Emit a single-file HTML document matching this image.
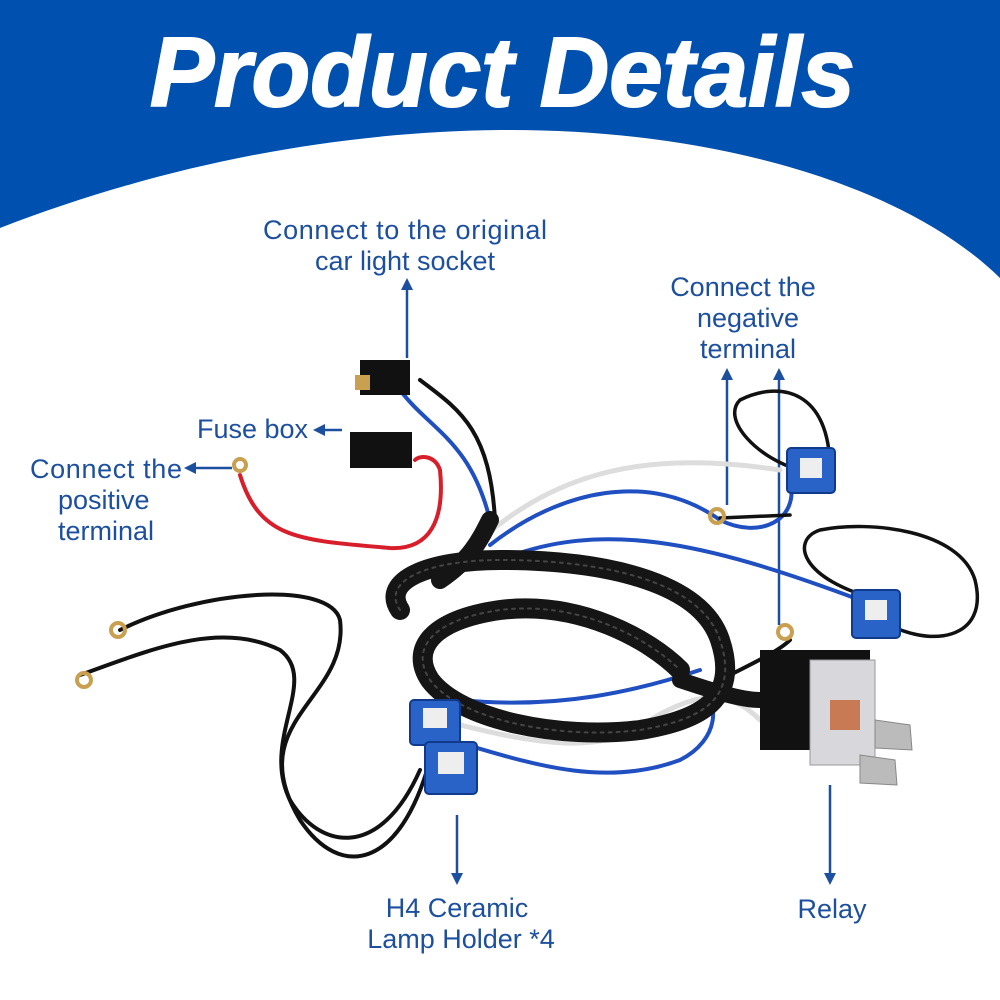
<!DOCTYPE html>
<html><head><meta charset="utf-8"><style>
html,body{margin:0;padding:0;background:#fff;}
svg{display:block}
text{font-family:"Liberation Sans",sans-serif;}
.l{fill:#1d4f9f;font-size:27px;}
</style></head><body>
<svg width="1000" height="1000" viewBox="0 0 1000 1000" xmlns="http://www.w3.org/2000/svg">
<path d="M0 0H1000V278C900 180 700 128 500 130C320 132 150 170 0 228Z" fill="#0050b0"/>
<text x="150" y="106" font-size="98" font-weight="bold" font-style="italic" fill="#fff" stroke="#fff" stroke-width="2" textLength="705" lengthAdjust="spacingAndGlyphs">Product Details</text>

<!-- labels -->
<text class="l" x="405" y="239" text-anchor="middle" textLength="284">Connect to the original</text>
<text class="l" x="405" y="270" text-anchor="middle">car light socket</text>
<text class="l" x="743" y="296" text-anchor="middle">Connect the</text>
<text class="l" x="748" y="327" text-anchor="middle">negative</text>
<text class="l" x="748" y="358" text-anchor="middle">terminal</text>
<text class="l" x="197" y="438">Fuse box</text>
<text class="l" x="30" y="478" textLength="152">Connect the</text>
<text class="l" x="58" y="509">positive</text>
<text class="l" x="58" y="540">terminal</text>
<text class="l" x="457" y="917" text-anchor="middle">H4 Ceramic</text>
<text class="l" x="461" y="948" text-anchor="middle">Lamp Holder *4</text>
<text class="l" x="832" y="918" text-anchor="middle">Relay</text>

<!-- arrows -->
<g stroke="#1d4f9f" stroke-width="2.5" fill="#1d4f9f">
<line x1="407" y1="288" x2="407" y2="358"/><path d="M401 290L407 278L413 290Z" stroke="none"/>
<line x1="727" y1="378" x2="727" y2="505"/><path d="M721 380L727 368L733 380Z" stroke="none"/>
<line x1="779" y1="378" x2="779" y2="625"/><path d="M773 380L779 368L785 380Z" stroke="none"/>
<line x1="325" y1="430" x2="342" y2="430"/><path d="M325 424L313 430L325 436Z" stroke="none"/>
<line x1="196" y1="468" x2="232" y2="468"/><path d="M196 462L184 468L196 474Z" stroke="none"/>
<line x1="457" y1="815" x2="457" y2="875"/><path d="M451 873L457 885L463 873Z" stroke="none"/>
<line x1="830" y1="785" x2="830" y2="875"/><path d="M824 873L830 885L836 873Z" stroke="none"/>
</g>

<!-- wires -->
<g fill="none" stroke-linecap="round">
<path d="M240 475C260 540 300 540 390 548C430 550 445 520 440 470C435 455 420 455 415 460" stroke="#d81e2b" stroke-width="4"/>
<path d="M400 390C430 430 470 440 490 520" stroke="#1f4fc0" stroke-width="4"/>
<path d="M420 380C460 410 490 430 495 520" stroke="#111" stroke-width="4"/>
<path d="M480 540C560 470 650 450 780 470" stroke="#ddd" stroke-width="5"/>
<path d="M490 545C560 490 650 470 720 520C760 540 800 520 790 480" stroke="#1f4fc0" stroke-width="4"/>
<path d="M500 560C600 520 700 540 860 600" stroke="#1f4fc0" stroke-width="4"/>
<path d="M800 470C760 460 720 420 740 400C780 380 830 390 830 470" stroke="#111" stroke-width="3.5"/>
<path d="M880 600C800 580 790 540 820 530C870 520 960 530 975 580C990 640 930 650 880 620" stroke="#111" stroke-width="3.5"/>
<path d="M720 518L790 515" stroke="#111" stroke-width="3.5"/>
<path d="M120 630C200 590 330 580 340 620C350 700 240 720 300 820C340 880 400 870 430 760" stroke="#111" stroke-width="4"/>
<path d="M80 675C150 650 220 620 280 650C320 680 260 740 290 800C320 850 380 860 420 770" stroke="#111" stroke-width="4"/>
<path d="M440 720C520 740 600 760 650 720C700 690 730 690 760 720" stroke="#ddd" stroke-width="5"/>
<path d="M450 740C520 760 600 790 680 760C720 740 720 700 700 690" stroke="#1f4fc0" stroke-width="4"/>
<path d="M460 700C560 710 640 690 700 670" stroke="#1f4fc0" stroke-width="4"/>
<path d="M720 680C760 660 780 650 790 640" stroke="#111" stroke-width="4"/>
<path d="M400 610C380 580 430 560 500 560C600 560 700 580 720 640C740 700 700 720 640 730C560 740 460 720 430 680C410 650 430 620 500 610C580 600 650 640 680 670" stroke="#151515" stroke-width="20"/>
<path d="M440 580C470 560 480 540 490 520" stroke="#151515" stroke-width="18"/>
<path d="M680 680C710 690 740 700 760 700" stroke="#151515" stroke-width="16"/>
<path d="M400 610C380 580 430 560 500 560C600 560 700 580 720 640C740 700 700 720 640 730C560 740 460 720 430 680C410 650 430 620 500 610C580 600 650 640 680 670" stroke="#444" stroke-width="2" stroke-dasharray="3 5"/>
</g>

<!-- connectors -->
<rect x="360" y="360" width="50" height="35" fill="#111"/>
<rect x="355" y="375" width="15" height="15" fill="#c8a050"/>
<rect x="350" y="432" width="62" height="36" fill="#111"/>
<circle cx="240" cy="465" r="6" fill="none" stroke="#c8a050" stroke-width="4"/>
<circle cx="717" cy="516" r="7" fill="none" stroke="#c8a050" stroke-width="4"/>
<circle cx="785" cy="632" r="7" fill="none" stroke="#c8a050" stroke-width="4"/>
<circle cx="118" cy="630" r="7" fill="none" stroke="#c8a050" stroke-width="4"/>
<circle cx="84" cy="680" r="7" fill="none" stroke="#c8a050" stroke-width="4"/>
<g fill="#2a63c8" stroke="#123a8a" stroke-width="2">
<rect x="787" y="448" width="48" height="45" rx="4"/>
<rect x="852" y="590" width="48" height="48" rx="4"/>
<rect x="410" y="700" width="50" height="45" rx="4"/>
<rect x="425" y="742" width="52" height="52" rx="4"/>
</g>
<g fill="#eee">
<rect x="800" y="458" width="22" height="20"/>
<rect x="865" y="600" width="22" height="20"/>
<rect x="423" y="708" width="24" height="20"/>
<rect x="438" y="752" width="26" height="22"/>
</g>
<rect x="760" y="650" width="110" height="100" fill="#111"/>
<rect x="810" y="660" width="65" height="105" fill="#d8d8dc" stroke="#999"/>
<rect x="830" y="700" width="30" height="30" fill="#c87a55"/>
<path d="M875 720L910 725L912 750L875 748Z" fill="#bbb" stroke="#888"/>
<path d="M860 755L895 760L897 785L860 783Z" fill="#bbb" stroke="#888"/>
</svg>
</body></html>
